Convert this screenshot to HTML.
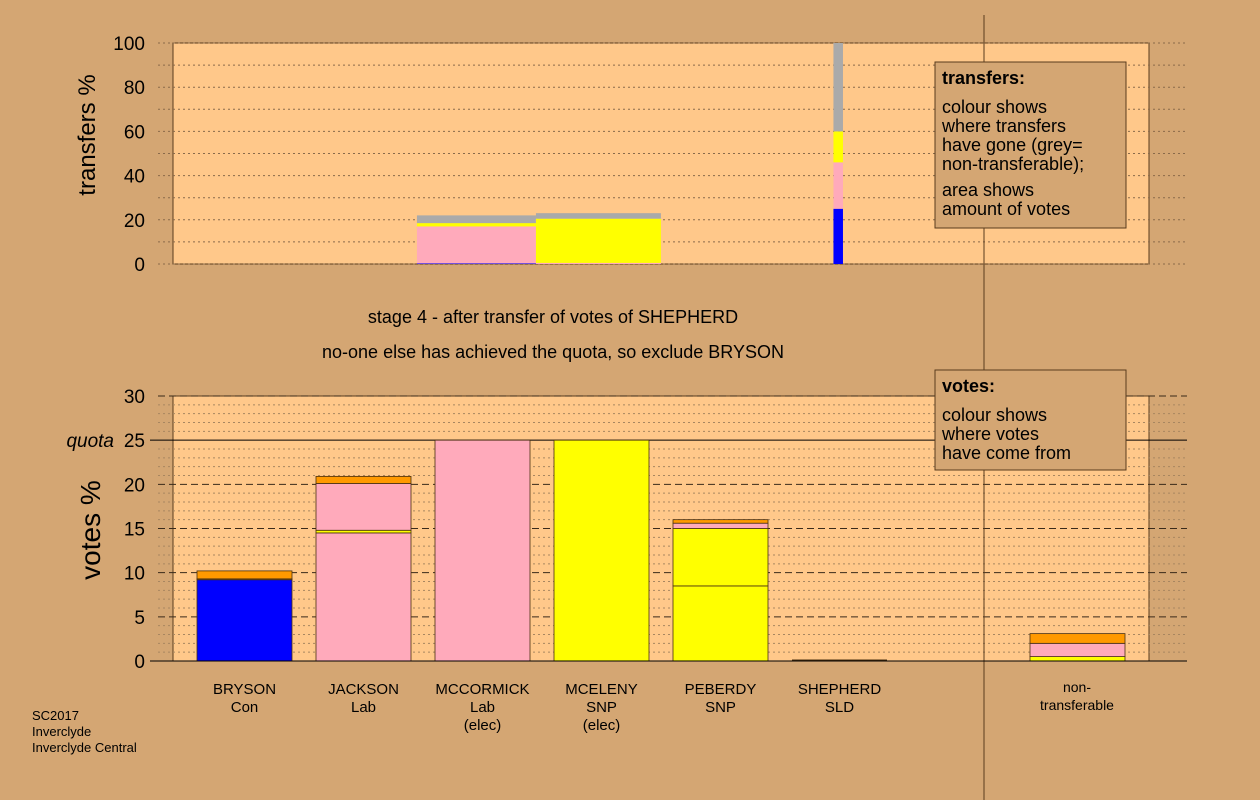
<!DOCTYPE html>
<html><head><meta charset="utf-8"><style>
body{margin:0;background:#d4a673;}
svg{display:block;font-family:"Liberation Sans",sans-serif;}
</style></head><body>
<svg id="chart" width="1260" height="800" viewBox="0 0 1260 800">
<rect x="0" y="0" width="1260" height="800" fill="#d4a673"/>
<rect x="173" y="43" width="976" height="221" fill="#ffc88a" stroke="#5a3c1e"/>
<rect x="173" y="396" width="976" height="265" fill="#ffc88a" stroke="#5a3c1e"/>
<g id="grid"></g>
<g id="bars"></g>
<line x1="984" y1="15" x2="984" y2="800" stroke="#5a3c1e"/>
<g id="axes"></g>
<text x="115" y="155" font-size="24" text-anchor="middle" transform="rotate(-90 95 155)">transfers %</text>
<text x="100" y="530" font-size="28" text-anchor="middle" transform="rotate(-90 100 530)">votes %</text>
<text x="553" y="323" font-size="18" text-anchor="middle">stage 4 - after transfer of votes of SHEPHERD</text>
<text x="553" y="358" font-size="18" text-anchor="middle">no-one else has achieved the quota, so exclude BRYSON</text>
<g>
<rect x="935" y="62" width="191" height="166" fill="#d4a673" stroke="#5a3c1e"/>
<text x="942" y="84" font-size="18" font-weight="bold">transfers:</text>
<text font-size="18"><tspan x="942" y="113">colour shows</tspan><tspan x="942" y="132">where transfers</tspan><tspan x="942" y="151">have gone (grey=</tspan><tspan x="942" y="170">non-transferable);</tspan><tspan x="942" y="196">area shows</tspan><tspan x="942" y="215">amount of votes</tspan></text>
</g>
<g>
<rect x="935" y="370" width="191" height="100" fill="#d4a673" stroke="#5a3c1e"/>
<text x="942" y="392" font-size="18" font-weight="bold">votes:</text>
<text font-size="18"><tspan x="942" y="421">colour shows</tspan><tspan x="942" y="440">where votes</tspan><tspan x="942" y="459">have come from</tspan></text>
</g>
<text font-size="13"><tspan x="32" y="720">SC2017</tspan><tspan x="32" y="736">Inverclyde</tspan><tspan x="32" y="752">Inverclyde Central</tspan></text>
</svg>
<script>
const candidates=["BRYSON\nCon","JACKSON\nLab","MCCORMICK\nLab\n(elec)","MCELENY\nSNP\n(elec)","PEBERDY\nSNP","SHEPHERD\nSLD"];
const colours={blue:"#0000ff",pink:"#ffaabb",yellow:"#ffff00",orange:"#ff9900",grey:"#aaaaaa"};
// votes: stacked segments [colour,value]
const votesBryson=[["blue",9.2],["pink",0.1],["orange",0.9]];
const votesJackson=[["pink",14.5],["yellow",0.3],["pink",5.3],["orange",0.8]];
const votesMccormick=[["pink",25]];
const votesMceleny=[["yellow",25]];
const votesPeberdy=[["yellow",8.5],["yellow",6.5],["pink",0.6],["orange",0.4]];
const votesShepherd=[["yellow",0]];
const votesNonTransferable=[["yellow",0.5],["pink",1.5],["orange",1.1]];
const quota=25;
const votesTicks=[0,5,10,15,20,25,30];
const transferTicks=[0,20,40,60,80,100];
// transfers: [x-left, x-right in slot units (candidate index space), segments]
const transferBar1=[["blue",0.3],["pink",16.7],["yellow",1.5],["grey",3.5]];
const transferBar2=[["pink",0.5],["yellow",20.0],["grey",2.5]];
const transferBar3=[["blue",25],["pink",21],["yellow",14],["grey",40]];
const transferWidths=[1.0,1.05,0.08];
const transferStarts=[2.05,3.05,5.55];

const NS="http://www.w3.org/2000/svg";
function el(t,a,p){const e=document.createElementNS(NS,t);for(const k in a)e.setAttribute(k,a[k]);p.appendChild(e);return e;}
const yV=v=>661-v*(265/30);
const yT=v=>264-v*(221/100);
const slotX=i=>173+24+i*119; // left of bar i
const grid=document.getElementById('grid'),bars=document.getElementById('bars'),axes=document.getElementById('axes');
// top grid
for(let v=0;v<=100;v+=10){const g=el('line',{x1:158,x2:1187,y1:yT(v),y2:yT(v),stroke:'#8a6a4a','stroke-dasharray':'2,3'},grid);
}
// bottom grid
for(let v=0;v<=30;v++){if(v===quota)continue;const maj=v%5===0;
const g=el('line',{x1:158,x2:1187,y1:yV(v),y2:yV(v),stroke:maj?'#3a2a1a':'#a88660','stroke-dasharray':maj?'7,4':'2,3'},grid);
}
const q=el('line',{x1:150,x2:1187,y1:yV(quota),y2:yV(quota),stroke:'#000'},grid);

// tick labels
transferTicks.forEach(v=>{const t=el('text',{x:145,y:yT(v)+7,'font-size':19,'text-anchor':'end'},axes);t.textContent=v;
});
votesTicks.forEach(v=>{const t=el('text',{x:145,y:yV(v)+7,'font-size':19,'text-anchor':'end'},axes);t.textContent=v;
});
const ql=el('text',{x:114,y:yV(quota)+7,'font-size':19,'text-anchor':'end','font-style':'italic'},axes);ql.textContent='quota';

const ax=el('line',{x1:150,x2:1187,y1:661,y2:661,stroke:'#000'},axes);

// vote bars
function stack(segs,x,w,name){let c=0;segs.forEach(([col,v])=>{if(v<=0)return;
const r=el('rect',{x:x,y:yV(c+v),width:w,height:yV(c)-yV(c+v),fill:colours[col],stroke:'#4a3010','stroke-width':0.8},bars);
c+=v;});}
const allVotes=[votesBryson,votesJackson,votesMccormick,votesMceleny,votesPeberdy,votesShepherd];
allVotes.forEach((s,i)=>stack(s,slotX(i),95,'vote-bar-'+candidates[i].split('\n')[0].toLowerCase()));
const sh=el('line',{x1:slotX(5),x2:slotX(5)+95,y1:660,y2:660,stroke:'#4a3010'},bars);

stack(votesNonTransferable,1030,95,'vote-bar-non-transferable');
// candidate labels
candidates.forEach((c,i)=>{const lines=c.split('\n');lines.forEach((l,j)=>{
const t=el('text',{x:slotX(i)+47.5,y:694+j*18,'font-size':15,'text-anchor':'middle'},axes);t.textContent=l;
});});
["non-","transferable"].forEach((l,j)=>{const t=el('text',{x:1077,y:692+j*18,'font-size':14,'text-anchor':'middle'},axes);t.textContent=l;
});
// transfer bars
[transferBar1,transferBar2,transferBar3].forEach((segs,k)=>{const x0=173+transferStarts[k]*119,w=transferWidths[k]*119;let c=0;
segs.forEach(([col,v])=>{const r=el('rect',{x:x0,y:yT(c+v),width:w,height:yT(c)-yT(c+v),fill:colours[col]},bars);
c+=v;});});
</script>
</body></html>
